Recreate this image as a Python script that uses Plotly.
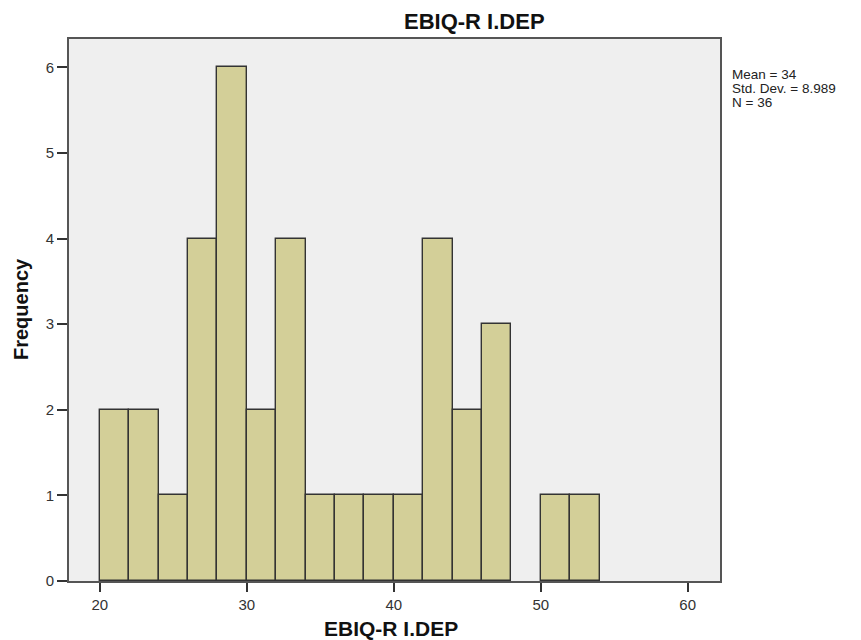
import plotly.graph_objects as go

bin_starts = [20, 22, 24, 26, 28, 30, 32, 34, 36, 38, 40, 42, 44, 46, 48, 50, 52]
counts = [2, 2, 1, 4, 6, 2, 4, 1, 1, 1, 1, 4, 2, 3, 0, 1, 1]
bin_width = 2
x_ticks = [20, 30, 40, 50, 60]
y_ticks = [0, 1, 2, 3, 4, 5, 6]
title = "EBIQ-R I.DEP"
y_title = "Frequency"
stats_lines = ["Mean = 34", "Std. Dev. = 8.989", "N = 36"]

xs = [s + bin_width / 2 for s, c in zip(bin_starts, counts) if c > 0]
ys = [c for c in counts if c > 0]

W, H = 861, 640
L, R, T, B = 69, 720, 39, 581

fig = go.Figure()
fig.add_trace(go.Bar(
    x=xs, y=ys, width=[bin_width] * len(xs),
    marker=dict(color="#D3CF98", line=dict(color="#333333", width=1.4)),
    hoverinfo="x+y",
))

font = "Liberation Sans, Arial, sans-serif"
axis_common = dict(ticks="outside", tickcolor="#333333", tickwidth=1.5, showgrid=False,
                   zeroline=False, showline=True, linecolor="#555555", linewidth=2,
                   mirror=True, automargin=False,
                   tickfont=dict(size=15, color="#333333", family=font))

annotations = [
    dict(text="<b>" + title + "</b>", xref="paper", yref="paper",
         x=(474 - L) / (R - L), y=(B - 21) / (B - T), xanchor="center", yanchor="middle",
         showarrow=False, font=dict(size=22, color="#111111", family=font)),
    dict(text="<b>" + title + "</b>", xref="paper", yref="paper",
         x=(391 - L) / (R - L), y=(B - 628) / (B - T), xanchor="center", yanchor="middle",
         showarrow=False, font=dict(size=21, color="#111111", family=font)),
    dict(text="<b>" + y_title + "</b>", xref="paper", yref="paper", textangle=-90,
         x=(21 - L) / (R - L), y=(B - 309) / (B - T), xanchor="center", yanchor="middle",
         showarrow=False, font=dict(size=20, color="#111111", family=font)),
]
for i, line in enumerate(stats_lines):
    yc = 74 + 14.5 * i
    annotations.append(dict(text=line, xref="paper", yref="paper",
                            x=(731 - L) / (R - L), y=(B - yc) / (B - T),
                            xanchor="left", yanchor="middle", showarrow=False, borderpad=0,
                            font=dict(size=13.5, color="#222222", family=font)))

fig.update_layout(
    width=W, height=H,
    margin=dict(l=L, r=W - R, t=T, b=H - B, autoexpand=False),
    paper_bgcolor="white", plot_bgcolor="#EFEFEF",
    showlegend=False, bargap=0,
    font=dict(family=font, size=13, color="#222222"),
    xaxis=dict(range=[17.9, 62.2], tickvals=x_ticks, ticklen=9, **axis_common),
    yaxis=dict(range=[0, 6.33], tickvals=y_ticks, ticklen=10, **axis_common),
    annotations=annotations,
)

fig.write_html("out.html", config={"displayModeBar": False},
               post_script="document.body.style.margin='0';document.body.style.overflow='hidden';")
